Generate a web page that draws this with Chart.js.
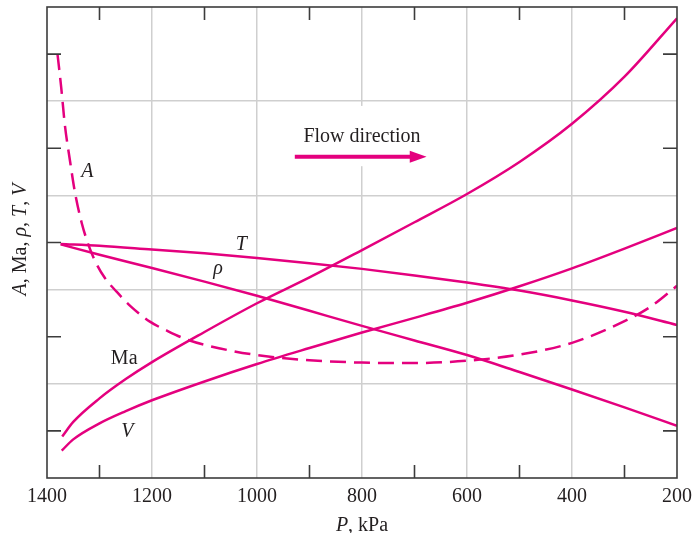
<!DOCTYPE html>
<html><head><meta charset="utf-8">
<script src="https://cdn.jsdelivr.net/npm/chart.js@4.4.0/dist/chart.umd.min.js"></script>
<style>html,body{margin:0;padding:0;background:#fff}#wrap{width:692px;height:533px;position:relative}</style>
</head><body><div id="wrap"><canvas id="c" width="692" height="533"></canvas></div>
<script>
// ---- data (P in kPa, values in arbitrary chart units 0..10) ----
const xLabelValues = [1400, 1200, 1000, 800, 600, 400, 200];
const xTickMarks = [1300, 1100, 900, 700, 500, 300];
const yTickMarks = [1, 3, 5, 7, 9];

const pA  = [1380, 1373, 1366, 1356, 1347, 1334, 1321, 1309, 1290, 1267, 1240, 1204, 1170, 1131, 1070, 1000, 900, 800, 700, 600, 500, 400, 300, 250, 200];
const vA  = [9.00, 8.30, 7.50, 6.72, 6.08, 5.42, 4.95, 4.62, 4.25, 3.95, 3.64, 3.32, 3.12, 2.93, 2.75, 2.61, 2.50, 2.45, 2.44, 2.49, 2.62, 2.87, 3.33, 3.64, 4.08];

const pMa = [1371, 1350, 1300, 1250, 1200, 1100, 1000, 900, 800, 700, 600, 500, 400, 300, 200];
const vMa = [0.88, 1.19, 1.69, 2.10, 2.46, 3.10, 3.71, 4.26, 4.84, 5.43, 6.03, 6.71, 7.52, 8.52, 9.76];

const pV  = [1372, 1350, 1300, 1250, 1200, 1100, 1000, 900, 800, 700, 600, 500, 400, 300, 200];
const vV  = [0.58, 0.82, 1.16, 1.42, 1.65, 2.05, 2.42, 2.76, 3.09, 3.40, 3.72, 4.07, 4.45, 4.87, 5.31];

const pT  = [1374, 1300, 1200, 1100, 1000, 900, 800, 700, 600, 500, 400, 300, 200];
const vT  = [4.97, 4.93, 4.85, 4.77, 4.67, 4.56, 4.44, 4.30, 4.15, 3.98, 3.77, 3.53, 3.25];

const pR  = [1374, 1300, 1200, 1100, 1000, 900, 800, 700, 600, 500, 400, 300, 200];
const vR  = [4.96, 4.74, 4.46, 4.17, 3.87, 3.55, 3.23, 2.92, 2.61, 2.25, 1.88, 1.50, 1.11];

// ---- styling ----
const COL = '#e4007e';
const SERIF = '"Liberation Serif","Times New Roman",serif';
const TXT = '#231f20';

function pts(p, v) { return p.map((x, i) => ({ x: x, y: v[i] })); }
function ds(label, p, v, dash) {
  return { label, data: pts(p, v), borderColor: COL, borderWidth: 2.5, borderDash: dash || [],
           pointRadius: 0, fill: false, cubicInterpolationMode: 'monotone', borderCapStyle: 'butt' };
}

function drawMixed(ctx, parts, cx, by, sizePx) {
  let w = 0;
  const widths = parts.map(([t, it]) => { ctx.font = (it ? 'italic ' : '') + sizePx + 'px ' + SERIF; const m = ctx.measureText(t).width; w += m; return m; });
  let x = cx - w / 2;
  ctx.textAlign = 'left'; ctx.textBaseline = 'alphabetic';
  parts.forEach(([t, it], i) => { ctx.font = (it ? 'italic ' : '') + sizePx + 'px ' + SERIF; ctx.fillText(t, x, by); x += widths[i]; });
}

const deco = {
  id: 'deco',
  beforeDatasetsDraw(chart) {
    const { ctx, scales: { x, y } } = chart;
    const x0 = x.getPixelForValue(915), x1 = x.getPixelForValue(650);
    const y0 = y.getPixelForValue(7.9), y1 = y.getPixelForValue(6.62);
    ctx.save(); ctx.fillStyle = '#fff'; ctx.fillRect(x0, y0, x1 - x0, y1 - y0); ctx.restore();
  },
  afterDraw(chart) {
    const { ctx, chartArea: a, scales: { x, y } } = chart;
    ctx.save();
    ctx.strokeStyle = '#3c3c3c'; ctx.lineWidth = 1.6;
    ctx.strokeRect(a.left, a.top, a.right - a.left, a.bottom - a.top);
    ctx.beginPath();
    yTickMarks.forEach(v => { const py = y.getPixelForValue(v);
      ctx.moveTo(a.left, py); ctx.lineTo(a.left + 14, py);
      ctx.moveTo(a.right, py); ctx.lineTo(a.right - 14, py); });
    xTickMarks.forEach(v => { const px = x.getPixelForValue(v);
      ctx.moveTo(px, a.top); ctx.lineTo(px, a.top + 13);
      ctx.moveTo(px, a.bottom); ctx.lineTo(px, a.bottom - 13); });
    ctx.stroke();

    ctx.fillStyle = TXT;
    const lab = (parts, P, v) => drawMixed(ctx, parts, x.getPixelForValue(P), y.getPixelForValue(v), 20);
    lab([['A', true]], 1323, 6.40);
    lab([['T', true]], 1030, 4.84);
    lab([['\u03C1', true]], 1074, 4.33);
    lab([['Ma', false]], 1253, 2.42);
    lab([['V', true]], 1247, 0.88);
    lab([['Flow direction', false]], 800, 7.13);

    const ay = y.getPixelForValue(6.82);
    const ax0 = x.getPixelForValue(928), axh = x.getPixelForValue(709), ax1 = x.getPixelForValue(677);
    ctx.strokeStyle = COL; ctx.fillStyle = COL; ctx.lineWidth = 4;
    ctx.beginPath(); ctx.moveTo(ax0, ay); ctx.lineTo(axh + 1, ay); ctx.stroke();
    ctx.beginPath(); ctx.moveTo(axh, ay - 6); ctx.lineTo(ax1, ay); ctx.lineTo(axh, ay + 6); ctx.closePath(); ctx.fill();

    ctx.fillStyle = TXT;
    drawMixed(ctx, [['P', true], [', kPa', false]], (a.left + a.right) / 2, 531, 20);
    ctx.save();
    ctx.translate(26, (a.top + a.bottom) / 2 - 3);
    ctx.rotate(-Math.PI / 2);
    drawMixed(ctx, [['A', true], [', Ma, ', false], ['\u03C1', true], [', ', false], ['T', true], [', ', false], ['V', true]], 0, 0, 20);
    ctx.restore();
    ctx.restore();
  }
};

new Chart(document.getElementById('c'), {
  type: 'line',
  data: { datasets: [
    ds('A', pA, vA, [16, 8]),
    ds('Ma', pMa, vMa),
    ds('V', pV, vV),
    ds('T', pT, vT),
    ds('rho', pR, vR)
  ] },
  options: {
    responsive: false, animation: false, devicePixelRatio: 1,
    layout: { padding: { left: 47, right: 15, top: 7, bottom: 18 } },
    plugins: { legend: { display: false }, tooltip: { enabled: false } },
    scales: {
      x: {
        type: 'linear', reverse: true, min: 200, max: 1400,
        border: { display: false },
        grid: { drawTicks: false, lineWidth: 1.5,
                color: c => (xLabelValues.includes(c.tick.value) && c.tick.value !== 1400 && c.tick.value !== 200) ? '#cfcfcf' : 'rgba(0,0,0,0)' },
        ticks: { stepSize: 100, autoSkip: false, maxRotation: 0, padding: 0, color: TXT,
                 font: { family: SERIF, size: 20, lineHeight: '37px' },
                 callback: v => xLabelValues.includes(v) ? String(v) : '' }
      },
      y: {
        type: 'linear', min: 0, max: 10,
        border: { display: false },
        grid: { drawTicks: false, lineWidth: 1.5,
                color: c => (c.tick.value % 2 === 0 && c.tick.value > 0 && c.tick.value < 10) ? '#cfcfcf' : 'rgba(0,0,0,0)' },
        ticks: { display: false, stepSize: 1 }
      }
    }
  },
  plugins: [deco]
});
</script>
</body></html>
